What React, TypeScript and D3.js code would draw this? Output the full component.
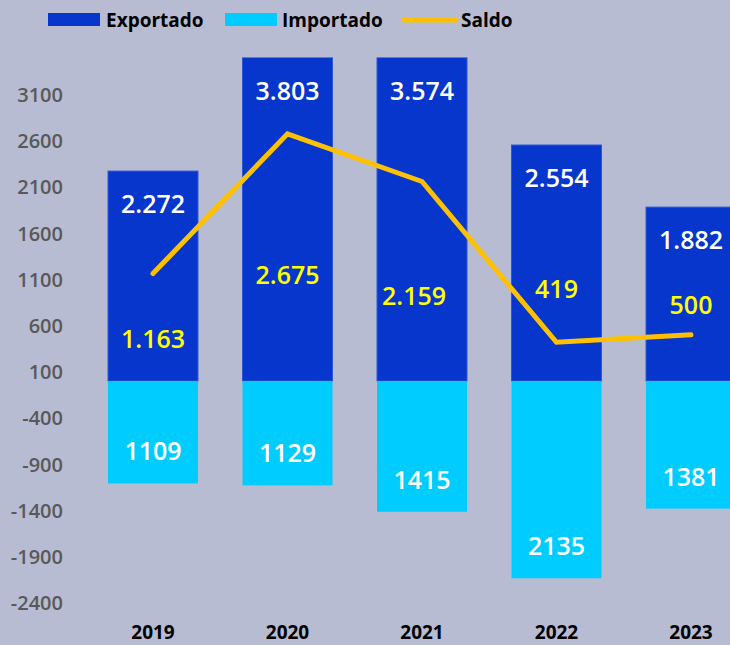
import React from 'react';
import * as d3 from 'd3';

const years = ['2019', '2020', '2021', '2022', '2023'];
const exportado = [2272, 3803, 3574, 2554, 1882];
const importado = [1109, 1129, 1415, 2135, 1381];
const saldo = [1163, 2675, 2159, 419, 500];
const exportLabels = ['2.272', '3.803', '3.574', '2.554', '1.882'];
const saldoLabels = ['1.163', '2.675', '2.159', '419', '500'];
const yTicks = [3100, 2600, 2100, 1600, 1100, 600, 100, -400, -900, -1400, -1900, -2400];

// manual placement of the saldo labels (pixels from the line point)
const saldoLabelDy = [64, 140, 113, -54, -31];
const saldoLabelDx = [0, 0, -8, 0, 0];

const W = 730;
const H = 645;
const FONT = '"Open Sans", "Noto Sans", sans-serif';

const App = () => {
  const x = d3.scaleBand<string>()
    .domain(years)
    .range([85.75, 758.25])
    .paddingInner(0.331)
    .paddingOuter(0.1655);

  const y = d3.scaleLinear()
    .domain([-2500, 3500])
    .range([612, 57.6]);

  const bw = x.bandwidth();
  const cx = (d: string) => (x(d) as number) + bw / 2;
  const top = y(3500);

  const line = d3.line<number>()
    .x((_, i) => cx(years[i]))
    .y(d => y(d));

  return (
    <svg width={W} height={H} style={{ position: 'fixed', left: 0, top: 0, background: '#b8bcd2' }}>
      <defs>
        <clipPath id="plot">
          <rect x={0} y={top} width={W} height={y(-2500) - top} />
        </clipPath>
      </defs>
      <rect width={W} height={H} fill="#b8bcd2" />

      {/* legend */}
      <g fontFamily={FONT} fontWeight={700} fontSize={19} fill="#000">
        <rect x={48} y={13} width={52} height={13} fill="#0636cc" />
        <text x={106} y={27}>Exportado</text>
        <rect x={225} y={13} width={52} height={13} fill="#00ccff" />
        <text x={282} y={27}>Importado</text>
        <line x1={404} x2={456} y1={20} y2={20} stroke="#ffc000" strokeWidth={5} strokeLinecap="round" />
        <text x={461} y={27}>Saldo</text>
      </g>

      {/* y axis labels */}
      <g fontFamily={FONT} fontWeight={600} fontSize={20} fill="#595959" textAnchor="end">
        {yTicks.map(t => (
          <text key={t} x={63} y={y(t)} dominantBaseline="central">{t}</text>
        ))}
      </g>

      <g clipPath="url(#plot)">
        {years.map((d, i) => (
          <g key={d}>
            <rect x={x(d)} y={y(exportado[i])} width={bw} height={y(0) - y(exportado[i])}
              fill="#0636cc" stroke="#2e58d6" strokeWidth={1} />
            <rect x={x(d)} y={y(0)} width={bw} height={y(-importado[i]) - y(0)}
              fill="#00ccff" />
          </g>
        ))}
      </g>

      <path d={line(saldo) || ''} fill="none" stroke="#ffc000" strokeWidth={5}
        strokeLinecap="round" strokeLinejoin="miter" />

      {/* data labels */}
      <g fontFamily={FONT} fontSize={25} fontWeight={600} textAnchor="middle">
        {years.map((d, i) => {
          const barTop = Math.max(y(exportado[i]), top);
          return (
            <g key={d}>
              <text x={cx(d)} y={barTop + 32} fill="#fff" dominantBaseline="central">{exportLabels[i]}</text>
              <text x={cx(d)} y={y(-importado[i]) - 33} fill="#fff" dominantBaseline="central">{importado[i]}</text>
              <text x={cx(d) + saldoLabelDx[i]} y={y(saldo[i]) + saldoLabelDy[i]} fill="#ffff00"
                dominantBaseline="central">{saldoLabels[i]}</text>
            </g>
          );
        })}
      </g>

      {/* x axis labels */}
      <g fontFamily={FONT} fontWeight={700} fontSize={19} fill="#000" textAnchor="middle">
        {years.map(d => (
          <text key={d} x={cx(d)} y={639}>{d}</text>
        ))}
      </g>
    </svg>
  );
};

export default App;
